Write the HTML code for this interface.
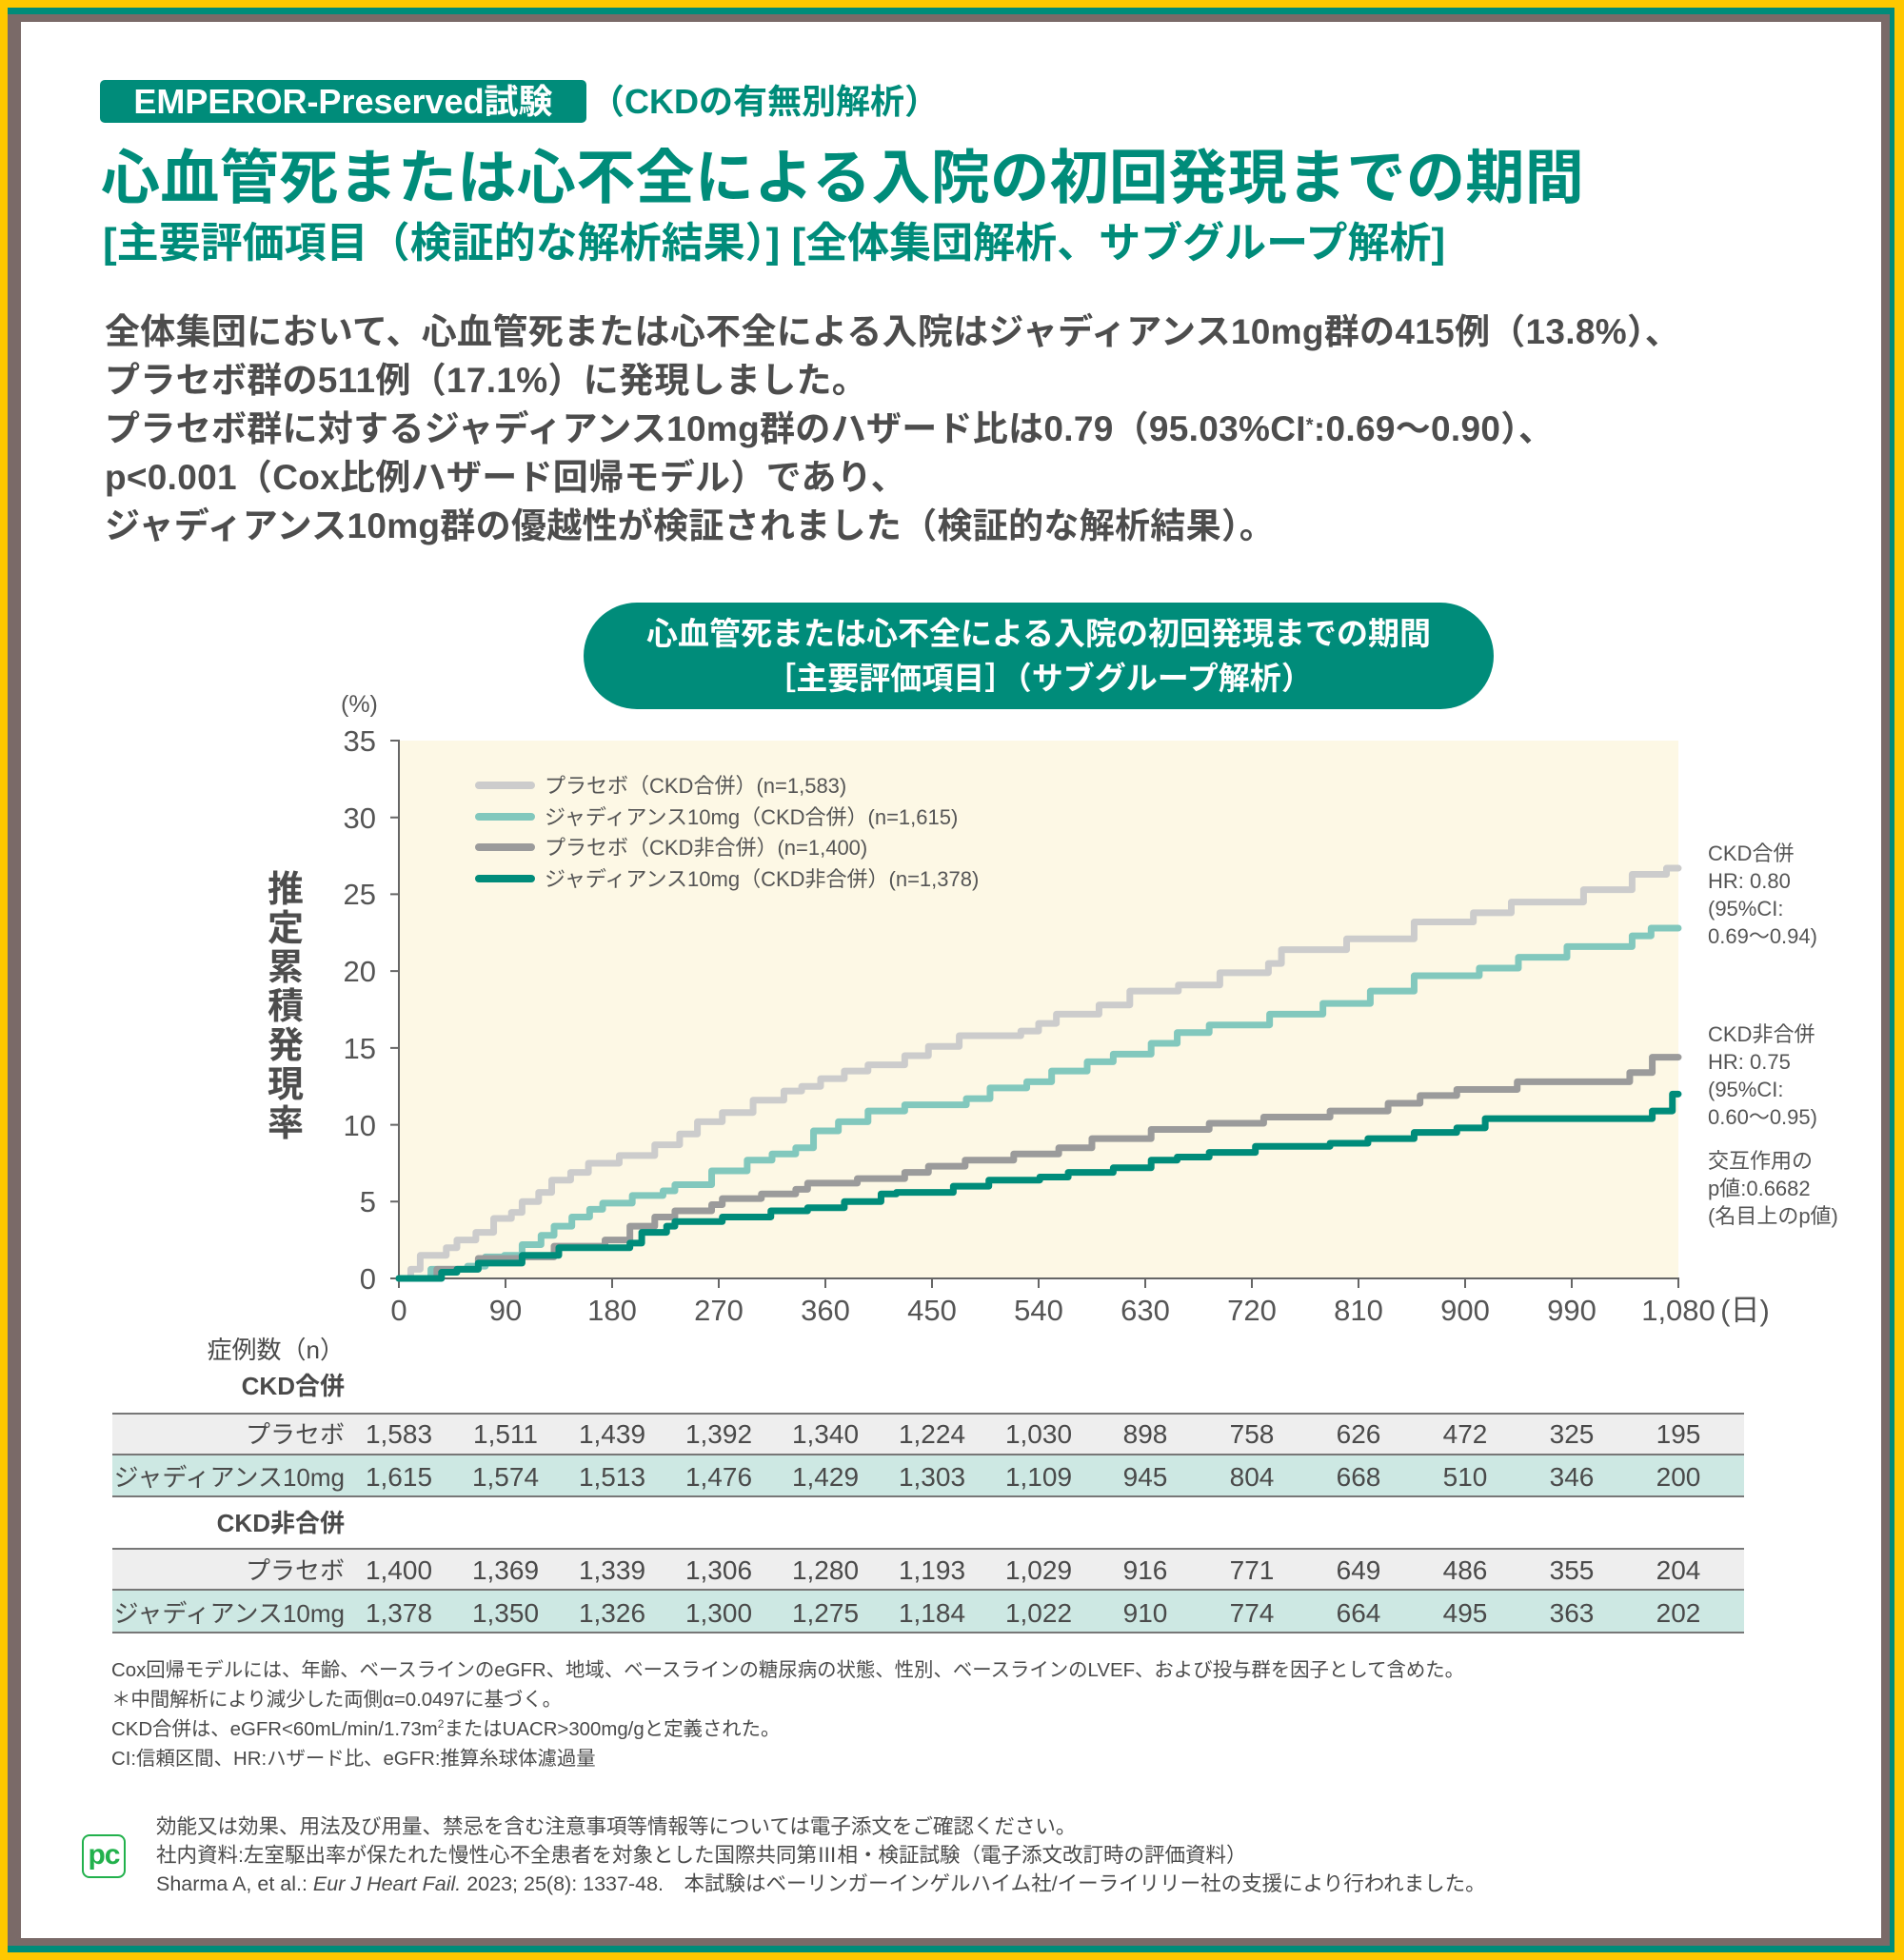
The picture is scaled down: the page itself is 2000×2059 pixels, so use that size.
<!DOCTYPE html>
<html><head><meta charset="utf-8">
<style>
*{margin:0;padding:0;box-sizing:border-box}
html,body{width:2000px;height:2059px;overflow:hidden;background:#fff}
body{position:relative;font-family:"Liberation Sans","Noto Sans CJK JP",sans-serif;color:#4a4a4a}
.a{position:absolute;white-space:nowrap}
.g{color:#008c7a}
.b{font-weight:bold}
</style></head><body>
<!-- borders -->
<div class="a" style="left:0;top:0;width:2000px;height:2059px;background:#ffc800"></div>
<div class="a" style="left:8px;top:8px;width:1982px;height:2043px;background:#008c7a"></div>
<div class="a" style="left:8px;top:15px;width:1977px;height:2029px;background:#7a6a68"></div>
<div class="a" style="left:22px;top:23px;width:1954px;height:2013px;background:#fff"></div>

<!-- header -->
<div class="a b" style="left:105px;top:84px;width:511px;height:45px;background:#008c7a;border-radius:5px;color:#fff;font-size:36px;line-height:45px;text-align:center">EMPEROR-Preserved試験</div>
<div class="a b g" style="left:620px;top:84px;font-size:36px;line-height:45px">（CKDの有無別解析）</div>
<div class="a b g" style="left:106px;top:150px;font-size:62px;line-height:76px;letter-spacing:0.4px">心血管死または心不全による入院の初回発現までの期間</div>
<div class="a b g" style="left:108px;top:230px;font-size:44px;line-height:52px">[主要評価項目（検証的な解析結果）] [全体集団解析、サブグループ解析]</div>

<div class="a b" style="left:110px;top:323px;font-size:37px;line-height:51px;color:#4d4d4d;letter-spacing:0.3px">全体集団において、心血管死または心不全による入院はジャディアンス10mg群の415例（13.8%）、<br>プラセボ群の511例（17.1%）に発現しました。<br>プラセボ群に対するジャディアンス10mg群のハザード比は0.79（95.03%CI<span style="font-size:20px;vertical-align:10px;line-height:0">*</span>:0.69～0.90）、<br>p&lt;0.001（Cox比例ハザード回帰モデル）であり、<br>ジャディアンス10mg群の優越性が検証されました（検証的な解析結果）。</div>

<!-- pill -->
<div class="a b" style="left:613px;top:633px;width:956px;height:112px;background:#008c7a;border-radius:56px;color:#fff;font-size:33px;line-height:47px;text-align:center;padding-top:9px">心血管死または心不全による入院の初回発現までの期間<br>［主要評価項目］（サブグループ解析）</div>

<!-- chart -->
<svg class="a" style="left:0;top:0" width="2000" height="2059">
<rect x="419" y="778" width="1344" height="565" fill="#fdf8e5"/>
<g stroke="#666" stroke-width="2" fill="none">
<line x1="419" y1="777" x2="419" y2="1344"/>
<line x1="418" y1="1343" x2="1764" y2="1343"/>
<path d="M410 778H419M410 858.7H419M410 939.4H419M410 1020.1H419M410 1100.9H419M410 1181.6H419M410 1262.3H419M410 1343H419"/>
<path d="M419 1343V1353M531 1343V1353M643 1343V1353M755 1343V1353M867 1343V1353M979 1343V1353M1091 1343V1353M1203 1343V1353M1315 1343V1353M1427 1343V1353M1539 1343V1353M1651 1343V1353M1763 1343V1353"/>
</g>
<g font-family="Liberation Sans, Noto Sans CJK JP, sans-serif" font-size="31" fill="#555" text-anchor="end">
<text x="395" y="789">35</text><text x="395" y="870">30</text><text x="395" y="950">25</text><text x="395" y="1031">20</text><text x="395" y="1112">15</text><text x="395" y="1193">10</text><text x="395" y="1273">5</text><text x="395" y="1354">0</text>
</g>
<text x="358" y="748" font-family="Liberation Sans, Noto Sans CJK JP, sans-serif" font-size="25" fill="#555">(%)</text>
<g font-family="Liberation Sans, Noto Sans CJK JP, sans-serif" font-size="31" fill="#555" text-anchor="middle">
<text x="419" y="1387">0</text><text x="531" y="1387">90</text><text x="643" y="1387">180</text><text x="755" y="1387">270</text><text x="867" y="1387">360</text><text x="979" y="1387">450</text><text x="1091" y="1387">540</text><text x="1203" y="1387">630</text><text x="1315" y="1387">720</text><text x="1427" y="1387">810</text><text x="1539" y="1387">900</text><text x="1651" y="1387">990</text><text x="1763" y="1387">1,080</text>
<text x="1833" y="1387">(日)</text>
</g>
<g transform="translate(419,1343) scale(1.2444,-16.14)" fill="none" stroke-width="7" stroke-linecap="round" stroke-linejoin="round">
<path vector-effect="non-scaling-stroke" stroke="#cccccc" d="M0 0 H10 V0.6 H18 V1.5 H40 V2.0 H49 V2.5 H65 V3.0 H80 V3.9 H95 V4.3 H104 V5.0 H118 V5.6 H129 V6.4 H145 V6.9 H160 V7.5 H186 V8.0 H216 V8.7 H237 V9.4 H252 V10.2 H273 V10.8 H299 V11.6 H325 V12.2 H340 V12.5 H356 V13.0 H376 V13.5 H396 V13.9 H427 V14.5 H447 V15.1 H473 V15.8 H525 V16.1 H540 V16.6 H555 V17.2 H591 V17.8 H617 V18.7 H658 V19.1 H693 V19.9 H734 V20.5 H745 V21.4 H800 V22.1 H857 V23.2 H907 V23.8 H939 V24.5 H1000 V25.3 H1041 V26.3 H1070 V26.7 H1080"/>
<path vector-effect="non-scaling-stroke" stroke="#82c8bd" d="M0 0 H27 V0.6 H58 V0.8 H73 V1.4 H89 V1.5 H104 V2.2 H120 V2.8 H131 V3.4 H146 V4.0 H161 V4.5 H172 V4.9 H197 V5.4 H223 V5.7 H233 V6.1 H264 V7.0 H294 V7.7 H315 V8.1 H335 V8.5 H350 V9.6 H371 V10.2 H396 V10.9 H427 V11.3 H479 V11.7 H499 V12.4 H530 V12.8 H551 V13.5 H581 V14.1 H603 V14.6 H635 V15.3 H657 V16.0 H684 V16.5 H735 V17.2 H780 V17.9 H820 V18.7 H857 V19.7 H912 V20.2 H945 V20.9 H986 V21.6 H1041 V22.3 H1057 V22.8 H1080"/>
<path vector-effect="non-scaling-stroke" stroke="#9b9b9b" d="M0 0 H32 V0.6 H67 V1.3 H104 V1.4 H131 V2.1 H174 V2.5 H195 V3.4 H216 V4.0 H233 V4.4 H264 V4.8 H273 V5.2 H306 V5.5 H335 V5.8 H345 V6.2 H387 V6.5 H427 V6.9 H447 V7.3 H478 V7.7 H519 V8.1 H557 V8.5 H585 V9.1 H635 V9.7 H684 V10.1 H730 V10.5 H786 V10.9 H835 V11.4 H862 V11.9 H893 V12.3 H944 V12.8 H1039 V13.4 H1058 V14.4 H1080"/>
<path vector-effect="non-scaling-stroke" stroke="#008c7a" d="M0 0 H36 V0.4 H49 V0.6 H67 V1.0 H104 V1.5 H135 V2.0 H195 V2.3 H205 V3.0 H226 V3.4 H233 V3.7 H273 V4.0 H314 V4.4 H345 V4.6 H376 V5.0 H407 V5.5 H420 V5.6 H468 V6.0 H498 V6.4 H541 V6.6 H565 V6.9 H603 V7.2 H635 V7.7 H657 V7.9 H684 V8.2 H723 V8.6 H786 V8.8 H818 V9.1 H857 V9.5 H893 V9.8 H917 V10.4 H1058 V10.9 H1075 V11.3 V12.0 H1080"/>
</g>
<g stroke-width="8" stroke-linecap="round">
<line x1="503" y1="825" x2="558" y2="825" stroke="#cccccc"/>
<line x1="503" y1="858" x2="558" y2="858" stroke="#82c8bd"/>
<line x1="503" y1="890" x2="558" y2="890" stroke="#9b9b9b"/>
<line x1="503" y1="923" x2="558" y2="923" stroke="#008c7a"/>
</g>
<g font-family="Liberation Sans, Noto Sans CJK JP, sans-serif" font-size="22" fill="#555">
<text x="572" y="833">プラセボ（CKD合併）(n=1,583)</text>
<text x="572" y="866">ジャディアンス10mg（CKD合併）(n=1,615)</text>
<text x="572" y="898">プラセボ（CKD非合併）(n=1,400)</text>
<text x="572" y="931">ジャディアンス10mg（CKD非合併）(n=1,378)</text>
</g>
<g font-family="Liberation Sans, Noto Sans CJK JP, sans-serif" font-size="22" fill="#555">
<text x="1794" y="904">CKD合併</text><text x="1794" y="933">HR: 0.80</text><text x="1794" y="962">(95%CI:</text><text x="1794" y="991">0.69～0.94)</text>
<text x="1794" y="1094">CKD非合併</text><text x="1794" y="1123">HR: 0.75</text><text x="1794" y="1152">(95%CI:</text><text x="1794" y="1181">0.60～0.95)</text>
<text x="1794" y="1227">交互作用の</text><text x="1794" y="1256">p値:0.6682</text><text x="1794" y="1285">(名目上のp値)</text>
</g>
</svg>
<div class="a b" style="left:278px;top:915px;width:44px;font-size:38px;line-height:41px;color:#4d4d4d;white-space:normal;text-align:center">推定累積発現率</div>

<!-- table -->
<div class="a" style="left:118px;top:1484px;width:1714px;height:45px;background:#eeeeee;border-top:2px solid #777;border-bottom:2px solid #777"></div>
<div class="a" style="left:118px;top:1529px;width:1714px;height:44px;background:#cde8e3;border-bottom:2px solid #777"></div>
<div class="a" style="left:118px;top:1626px;width:1714px;height:45px;background:#eeeeee;border-top:2px solid #777;border-bottom:2px solid #777"></div>
<div class="a" style="left:118px;top:1671px;width:1714px;height:45px;background:#cde8e3;border-bottom:2px solid #777"></div>
<svg class="a" style="left:0;top:0" width="2000" height="2059">
<g font-family="Liberation Sans, Noto Sans CJK JP, sans-serif" font-size="26" fill="#4a4a4a" text-anchor="end">
<text x="362" y="1427">症例数（n）</text>
<text x="362" y="1465" font-weight="bold">CKD合併</text>
<text x="362" y="1516">プラセボ</text>
<text x="362" y="1561">ジャディアンス10mg</text>
<text x="362" y="1609" font-weight="bold">CKD非合併</text>
<text x="362" y="1659">プラセボ</text>
<text x="362" y="1704">ジャディアンス10mg</text>
</g>
<g font-family="Liberation Sans, Noto Sans CJK JP, sans-serif" font-size="28" fill="#4a4a4a" text-anchor="middle">
<text y="1516"><tspan x="419">1,583</tspan><tspan x="531">1,511</tspan><tspan x="643">1,439</tspan><tspan x="755">1,392</tspan><tspan x="867">1,340</tspan><tspan x="979">1,224</tspan><tspan x="1091">1,030</tspan><tspan x="1203">898</tspan><tspan x="1315">758</tspan><tspan x="1427">626</tspan><tspan x="1539">472</tspan><tspan x="1651">325</tspan><tspan x="1763">195</tspan></text>
<text y="1561"><tspan x="419">1,615</tspan><tspan x="531">1,574</tspan><tspan x="643">1,513</tspan><tspan x="755">1,476</tspan><tspan x="867">1,429</tspan><tspan x="979">1,303</tspan><tspan x="1091">1,109</tspan><tspan x="1203">945</tspan><tspan x="1315">804</tspan><tspan x="1427">668</tspan><tspan x="1539">510</tspan><tspan x="1651">346</tspan><tspan x="1763">200</tspan></text>
<text y="1659"><tspan x="419">1,400</tspan><tspan x="531">1,369</tspan><tspan x="643">1,339</tspan><tspan x="755">1,306</tspan><tspan x="867">1,280</tspan><tspan x="979">1,193</tspan><tspan x="1091">1,029</tspan><tspan x="1203">916</tspan><tspan x="1315">771</tspan><tspan x="1427">649</tspan><tspan x="1539">486</tspan><tspan x="1651">355</tspan><tspan x="1763">204</tspan></text>
<text y="1704"><tspan x="419">1,378</tspan><tspan x="531">1,350</tspan><tspan x="643">1,326</tspan><tspan x="755">1,300</tspan><tspan x="867">1,275</tspan><tspan x="979">1,184</tspan><tspan x="1091">1,022</tspan><tspan x="1203">910</tspan><tspan x="1315">774</tspan><tspan x="1427">664</tspan><tspan x="1539">495</tspan><tspan x="1651">363</tspan><tspan x="1763">202</tspan></text>
</g>
</svg>

<!-- footnotes -->
<div class="a" style="left:117px;top:1740px;font-size:20.4px;line-height:31px;color:#4a4a4a">Cox回帰モデルには、年齢、ベースラインのeGFR、地域、ベースラインの糖尿病の状態、性別、ベースラインのLVEF、および投与群を因子として含めた。<br>＊中間解析により減少した両側α=0.0497に基づく。<br>CKD合併は、eGFR&lt;60mL/min/1.73m<span style="font-size:12px;vertical-align:8px;line-height:0">2</span>またはUACR&gt;300mg/gと定義された。<br>CI:信頼区間、HR:ハザード比、eGFR:推算糸球体濾過量</div>

<div class="a" style="left:86px;top:1927px;width:46px;height:46px;border:2px solid #22b14c;border-radius:8px;color:#22b14c;font-weight:bold;font-size:30px;line-height:40px;text-align:center;letter-spacing:-1px">pc</div>
<div class="a" style="left:164px;top:1904px;font-size:21.5px;line-height:30px;color:#4a4a4a">効能又は効果、用法及び用量、禁忌を含む注意事項等情報等については電子添文をご確認ください。<br>社内資料:左室駆出率が保たれた慢性心不全患者を対象とした国際共同第Ⅲ相・検証試験（電子添文改訂時の評価資料）<br>Sharma A, et al.: <i>Eur J Heart Fail.</i> 2023; 25(8): 1337-48.　本試験はベーリンガーインゲルハイム社/イーライリリー社の支援により行われました。</div>
</body></html>
